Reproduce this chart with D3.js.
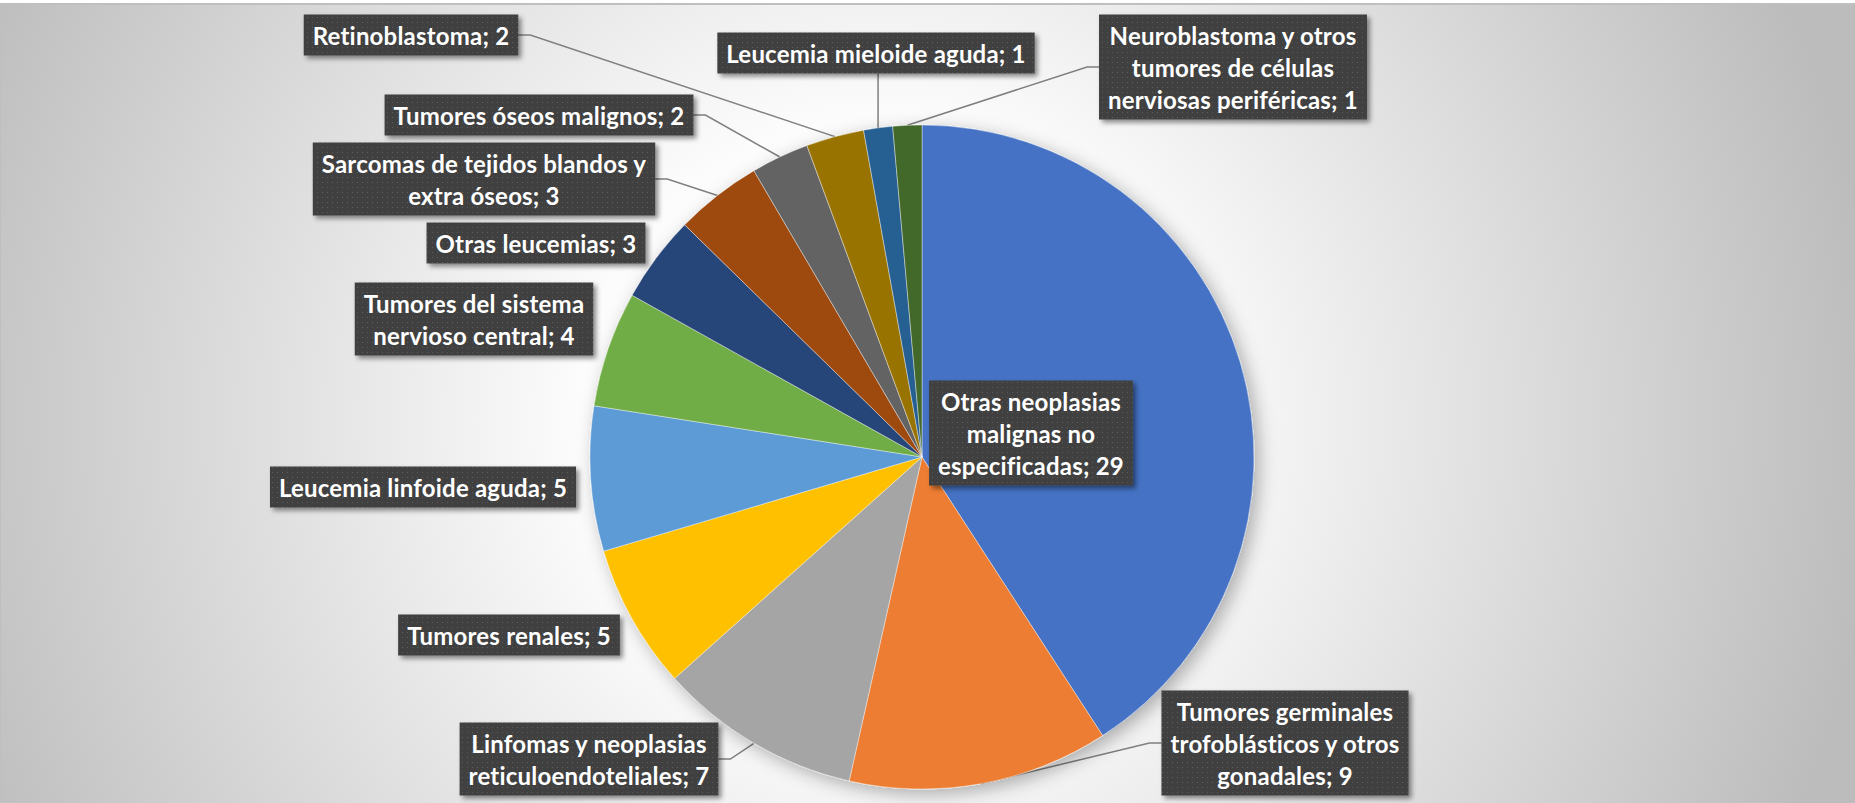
<!DOCTYPE html>
<html>
<head>
<meta charset="utf-8">
<script src="https://cdn.jsdelivr.net/npm/d3@7"></script>
<style>
  html, body { margin: 0; padding: 0; background: #ffffff; overflow: hidden; }
  #grafico text { font-family: "Lato", "Open Sans", sans-serif; font-weight: 700; }
</style>
</head>
<body>
<div id="grafico"></div>
<script>
// Datos del gráfico
const categorias = [
  "Otras neoplasias malignas no especificadas",
  "Tumores germinales trofoblásticos y otros gonadales",
  "Linfomas y neoplasias reticuloendoteliales",
  "Tumores renales",
  "Leucemia linfoide aguda",
  "Tumores del sistema nervioso central",
  "Otras leucemias",
  "Sarcomas de tejidos blandos y extra óseos",
  "Tumores óseos malignos",
  "Retinoblastoma",
  "Leucemia mieloide aguda",
  "Neuroblastoma y otros tumores de células nerviosas periféricas"
];
const valores = [29, 9, 7, 5, 5, 4, 3, 3, 2, 2, 1, 1];
const colores = ["#4472C4", "#ED7D31", "#A5A5A5", "#FFC000", "#5B9BD5", "#70AD47",
                 "#264478", "#9E480E", "#636363", "#997300", "#255E91", "#43682B"];
// cortes de línea de cada etiqueta (el valor se agrega al final)
const lineasEtiqueta = [
  ["Otras neoplasias", "malignas  no", "especificadas;"],
  ["Tumores germinales", "trofoblásticos y otros", "gonadales;"],
  ["Linfomas y neoplasias", "reticuloendoteliales;"],
  ["Tumores renales;"],
  ["Leucemia linfoide  aguda;"],
  ["Tumores del sistema", "nervioso  central;"],
  ["Otras leucemias;"],
  ["Sarcomas  de tejidos blandos y", "extra óseos;"],
  ["Tumores óseos malignos;"],
  ["Retinoblastoma;"],
  ["Leucemia mieloide aguda;"],
  ["Neuroblastoma y otros", "tumores de células", "nerviosas  periféricas;"]
];

// posición de cada caja de etiqueta (centro) y tipo de línea guía
const posEtiqueta = [
  { x: 1031, y: 433, guia: null },
  { x: 1285, y: 743, guia: "izq" },
  { x: 589, y: 759, guia: "der" },
  { x: 509, y: 635, guia: null },
  { x: 423, y: 487, guia: null },
  { x: 474, y: 319, guia: null },
  { x: 536, y: 243, guia: null },
  { x: 484, y: 179, guia: "der" },
  { x: 539, y: 115, guia: "der" },
  { x: 411, y: 35, guia: "der" },
  { x: 876, y: 53, guia: "abajo" },
  { x: 1233, y: 67, guia: "izq" }
];

const ancho = 1855;
const alto = 803;
const centroX = 922;
const centroY = 457;
const radio = 332;
const altoLinea = 32;
const tamFuente = 24;

const svg = d3.select("#grafico")
  .append("svg")
  .attr("width", ancho)
  .attr("height", alto);

const defs = svg.append("defs");

// fondo con degradado radial
const grad = defs.append("radialGradient")
  .attr("id", "fondo")
  .attr("gradientUnits", "userSpaceOnUse")
  .attr("cx", 880).attr("cy", 420).attr("r", 1000);
grad.append("stop").attr("offset", "0%").attr("stop-color", "#ffffff");
grad.append("stop").attr("offset", "30%").attr("stop-color", "#fcfcfc");
grad.append("stop").attr("offset", "100%").attr("stop-color", "#bcbcbc");

// patrón punteado de las cajas
const patron = defs.append("pattern")
  .attr("id", "puntos")
  .attr("patternUnits", "userSpaceOnUse")
  .attr("width", 5).attr("height", 5);
patron.append("rect").attr("width", 5).attr("height", 5).attr("fill", "#404040");
patron.append("rect").attr("x", 2).attr("y", 2).attr("width", 1).attr("height", 1).attr("fill", "#5c5c5c");

const sombra = defs.append("filter").attr("id", "sombra")
  .attr("x", "-10%").attr("y", "-20%").attr("width", "130%").attr("height", "160%");
sombra.append("feDropShadow")
  .attr("dx", 3).attr("dy", 3).attr("stdDeviation", 2.5)
  .attr("flood-color", "#000").attr("flood-opacity", 0.45);

const sombraPie = defs.append("filter").attr("id", "sombraPie")
  .attr("x", "-20%").attr("y", "-20%").attr("width", "140%").attr("height", "140%");
sombraPie.append("feDropShadow")
  .attr("dx", 5).attr("dy", 5).attr("stdDeviation", 9)
  .attr("flood-color", "#000").attr("flood-opacity", 0.3);

svg.append("rect")
  .attr("x", 0).attr("y", 4)
  .attr("width", ancho + 2).attr("height", alto)
  .attr("fill", "url(#fondo)")
  .attr("stroke", "#bfbfbf")
  .attr("stroke-width", 2);

// Pastel
const pie = d3.pie().sort(null).value(d => d);
const arcos = pie(valores);
const arco = d3.arc().innerRadius(0).outerRadius(radio);

const gPie = svg.append("g")
  .attr("transform", `translate(${centroX},${centroY})`)
  .attr("filter", "url(#sombraPie)");

gPie.selectAll("path")
  .data(arcos)
  .enter().append("path")
  .attr("d", arco)
  .attr("fill", (d, i) => colores[i])
  .attr("stroke", "#ffffff")
  .attr("stroke-opacity", 0.5)
  .attr("stroke-width", 0.8);

function puntoBorde(d) {
  const a = (d.startAngle + d.endAngle) / 2;
  return [centroX + radio * Math.sin(a), centroY - radio * Math.cos(a)];
}

// etiquetas: se mide el texto para dimensionar cajas
const gEtiquetas = svg.append("g");

arcos.forEach((d, i) => {
  const lineas = lineasEtiqueta[i].slice();
  lineas[lineas.length - 1] = lineas[lineas.length - 1] + " " + valores[i];
  const pos = posEtiqueta[i];

  const g = gEtiquetas.append("g");
  const caja = g.append("rect");
  const texto = g.append("text")
    .attr("text-anchor", "middle")
    .attr("fill", "#ffffff")
    .attr("font-size", tamFuente)
    .attr("letter-spacing", 0.2);

  lineas.forEach((l, j) => {
    texto.append("tspan")
      .attr("x", pos.x)
      .attr("y", pos.y + (j - (lineas.length - 1) / 2) * altoLinea)
      .attr("dominant-baseline", "central")
      .text(l);
  });

  const anchoTexto = d3.max(texto.selectAll("tspan").nodes(), n => n.getComputedTextLength());
  const w = anchoTexto + 18;
  const h = lineas.length * altoLinea + 9;
  caja
    .attr("x", pos.x - w / 2)
    .attr("y", pos.y - h / 2)
    .attr("width", w)
    .attr("height", h)
    .attr("fill", "url(#puntos)")
    .attr("filter", "url(#sombra)");

  // línea guía
  if (pos.guia) {
    const p = puntoBorde(d);
    let puntos;
    if (pos.guia === "der") {
      const x0 = pos.x + w / 2;
      puntos = [[x0, pos.y], [x0 + 12, pos.y], p];
    } else if (pos.guia === "izq") {
      const x0 = pos.x - w / 2;
      puntos = [[x0, pos.y], [x0 - 12, pos.y], p];
    } else {
      puntos = [[p[0], pos.y + h / 2], p];
    }
    svg.insert("path", "g")
      .attr("d", d3.line()(puntos))
      .attr("fill", "none")
      .attr("stroke", "#7f7f7f")
      .attr("stroke-width", 1.5);
  }
});
</script>
</body>
</html>
